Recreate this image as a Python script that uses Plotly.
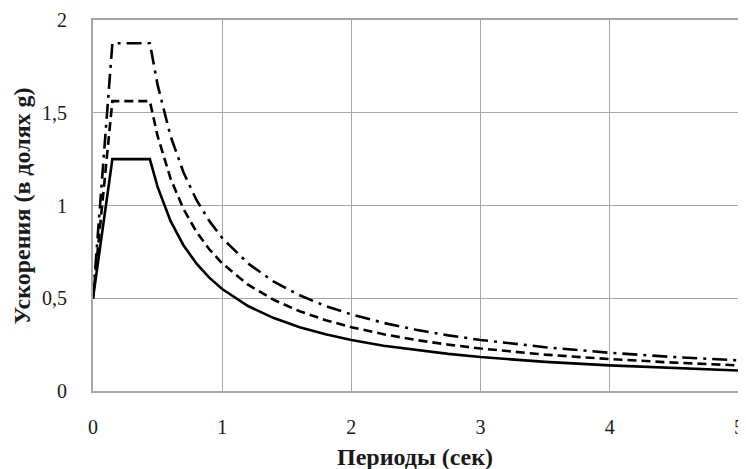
import plotly.graph_objects as go

periods = [0, 0.15, 0.44, 0.5, 0.6, 0.7, 0.8, 0.9, 1.0, 1.2, 1.4, 1.6, 1.8, 2.0,
           2.25, 2.5, 2.75, 3.0, 3.5, 4.0, 4.5, 5.0]
accel_solid = [0.5, 1.25, 1.25, 1.10, 0.917, 0.786, 0.688, 0.611, 0.55, 0.458, 0.393,
               0.344, 0.306, 0.275, 0.244, 0.22, 0.2, 0.183, 0.157, 0.138, 0.122, 0.11]
accel_dash = [0.5, 1.5625, 1.5625, 1.375, 1.146, 0.982, 0.859, 0.764, 0.688, 0.573, 0.491,
              0.43, 0.382, 0.344, 0.306, 0.275, 0.25, 0.229, 0.196, 0.172, 0.153, 0.138]
accel_dashdot = [0.5, 1.875, 1.875, 1.65, 1.375, 1.179, 1.031, 0.917, 0.825, 0.688, 0.589,
                 0.516, 0.458, 0.413, 0.367, 0.33, 0.3, 0.275, 0.236, 0.206, 0.183, 0.165]

x_ticks = [0, 1, 2, 3, 4, 5]
y_ticks = [0, 0.5, 1, 1.5, 2]
x_title = "Периоды (сек)"
y_title = "Ускорения (в долях g)"

fig = go.Figure()
fig.add_trace(go.Scatter(x=periods, y=accel_solid, mode="lines",
                         line=dict(color="black", width=2.6)))
fig.add_trace(go.Scatter(x=periods, y=accel_dash, mode="lines",
                         line=dict(color="black", width=2.6, dash="9px,5px")))
fig.add_trace(go.Scatter(x=periods, y=accel_dashdot, mode="lines",
                         line=dict(color="black", width=2.6, dash="15px,6px,3px,6px")))

grid = "#a6a6a6"
fig.update_layout(
    width=738, height=461,
    margin=dict(l=85, r=7, t=12, b=78, autoexpand=False),
    paper_bgcolor="white", plot_bgcolor="white",
    showlegend=False,
    separators=", ",
    font=dict(family="Liberation Serif", color="#1a1a1a", size=20),
    annotations=[
        dict(text="<b>" + x_title + "</b>", xref="paper", yref="paper",
             x=0.498, y=-0.178, xanchor="center", yanchor="middle", showarrow=False,
             font=dict(size=24, family="Liberation Serif", color="#1a1a1a")),
        dict(text="<b>" + y_title + "</b>", xref="paper", yref="paper",
             x=-0.11, y=0.5, xanchor="center", yanchor="middle", showarrow=False,
             textangle=-90,
             font=dict(size=24, family="Liberation Serif", color="#1a1a1a")),
    ],
)
fig.update_xaxes(
    range=[0, 5.0005], tickvals=x_ticks, showgrid=True, gridcolor=grid, gridwidth=1.3,
    showline=True, linecolor=grid, linewidth=2, mirror=True, zeroline=False,
    ticklabelstandoff=17, automargin=False,
)
fig.update_yaxes(
    range=[0, 2], tickvals=y_ticks, showgrid=True, gridcolor=grid, gridwidth=1.3,
    showline=True, linecolor=grid, linewidth=2, mirror=True, zeroline=False,
    ticklabelstandoff=20, automargin=False,
)

fig.write_html("out.html")
